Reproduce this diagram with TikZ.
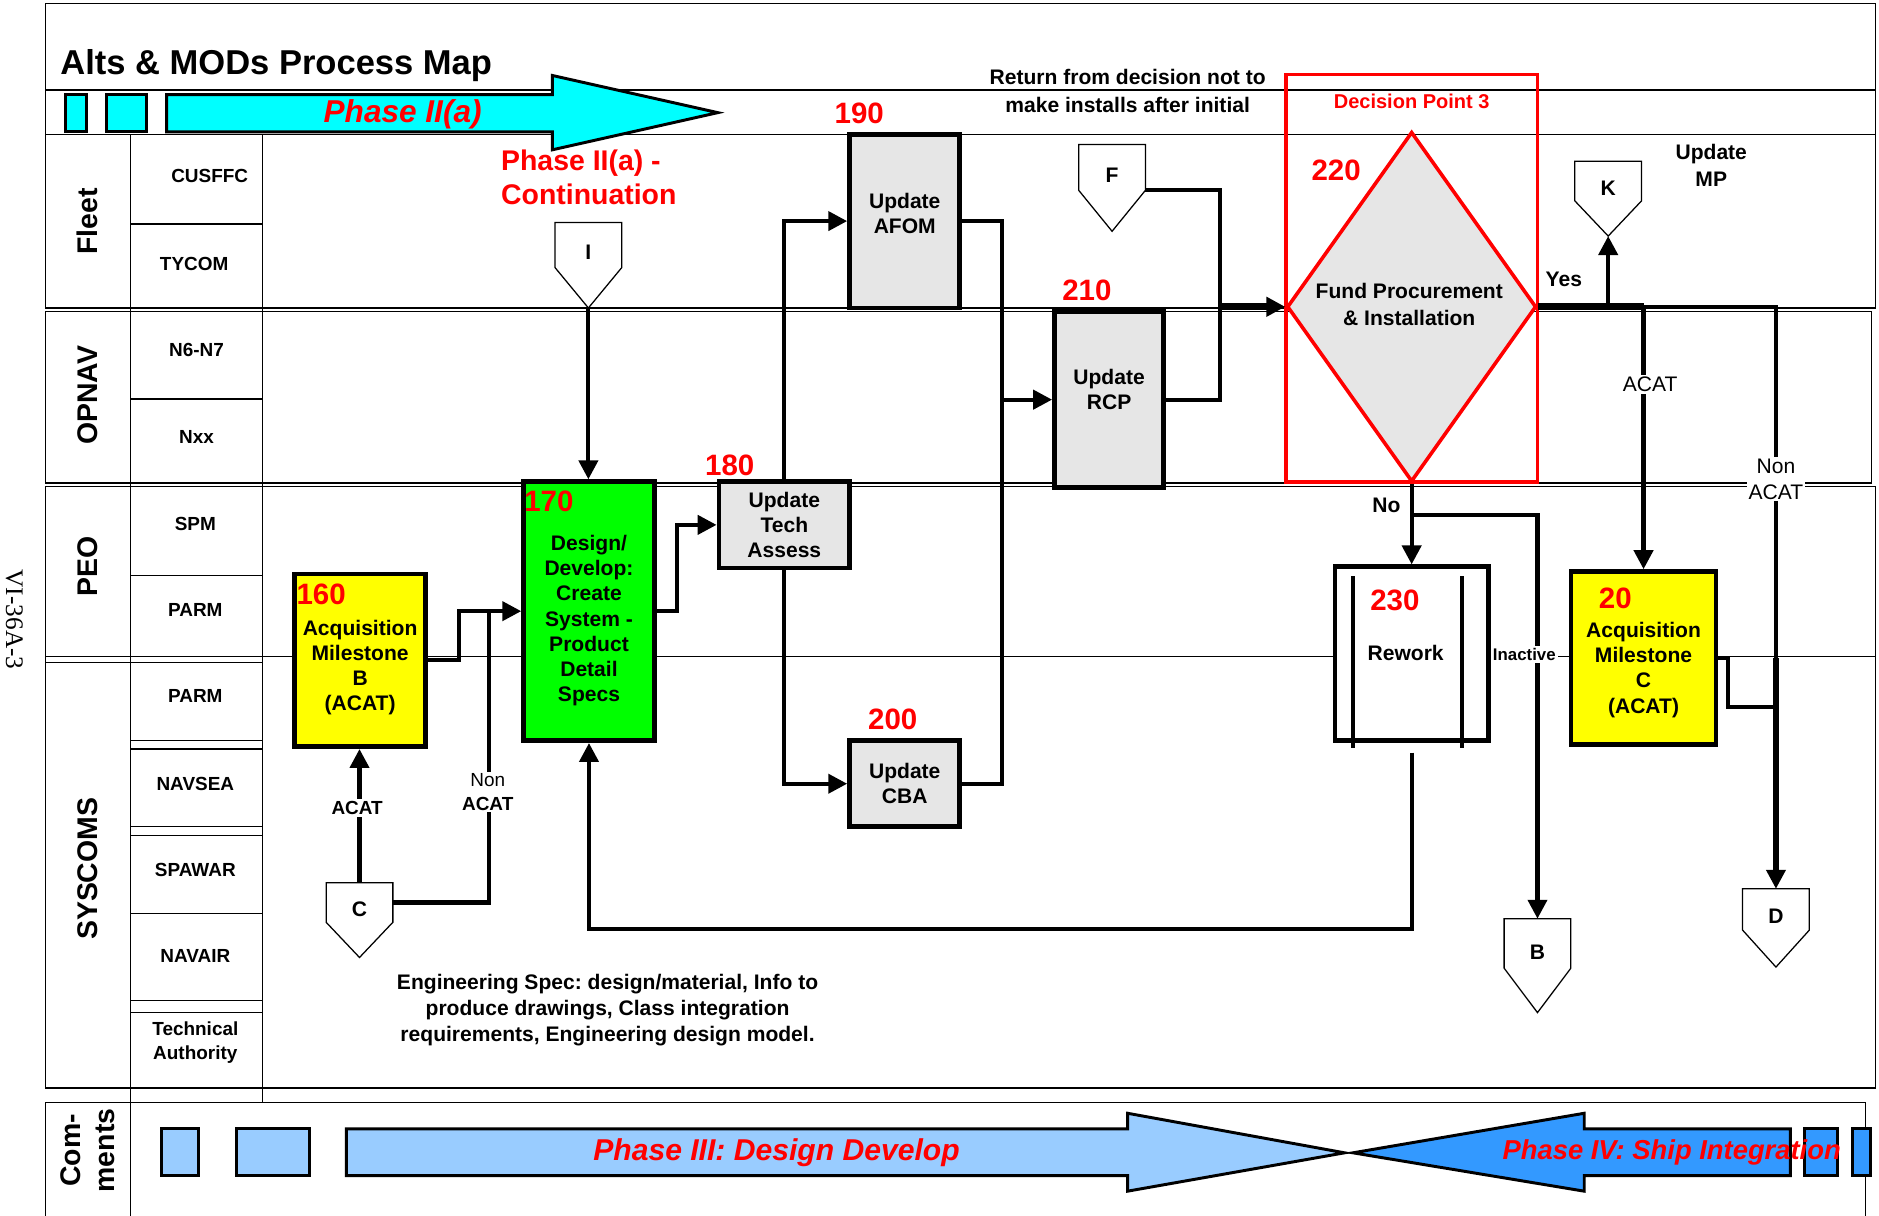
\documentclass[tikz,border=0pt]{standalone}
\usepackage{fontspec}
\setmainfont{Liberation Sans}
\newfontfamily\pagenofont{Liberation Serif}
\usetikzlibrary{arrows.meta,calc,positioning,shapes.geometric}
\definecolor{phcyan}{HTML}{00FFFF}
\definecolor{phlight}{HTML}{99CCFF}
\definecolor{phdark}{HTML}{3399FF}
\definecolor{boxgrey}{HTML}{E6E6E6}
\definecolor{boxyellow}{HTML}{FFFF00}
\definecolor{boxgreen}{HTML}{00FF00}
\newcommand{\sizefont}[2]{\fontsize{#1}{#2}\selectfont}
\tikzset{
  sz/.style 2 args={minimum width=#1*0.02cm,minimum height=#2*0.02cm},
  lane/.style={line width=0.6pt},
  lanehead/.style={rotate=90,font=\bfseries\sizefont{13.5}{16},align=center},
  lanecell/.style={font=\bfseries\sizefont{9}{11},align=center},
  procbox/.style={draw,line width=2.3pt,fill=boxgrey,inner sep=0pt,align=center,font=\bfseries\sizefont{10}{12}},
  boxtext/.style={align=center,inner sep=0pt,font=\bfseries\sizefont{10}{12}},
  stepno/.style={text=red,font=\bfseries\sizefont{14}{16}},
  offpg/.style={inner sep=0pt,minimum width=1.1cm,font=\bfseries\sizefont{10}{12}},
  conn/.style={line width=2pt},
  cnlabel/.style={fill=white,inner sep=1pt,align=center,font=\sizefont{10}{12}},
  remark/.style={align=center,font=\bfseries\sizefont{10}{12.5}},
  phbar/.style={draw,line width=1.4pt},
  phtext/.style={text=red,font=\bfseries\itshape\sizefont{15}{18}}
}

\begin{document}
\frenchspacing
\begin{tikzpicture}[x=0.02cm,y=-0.02cm,>={Triangle[length=9pt,width=9pt]}]
\useasboundingbox (0,0) rectangle (1568,1014);
% --- frame and swim lanes
\draw[lane] (38,3) rectangle (1565,257) (38,75) -- (1565,75) (38,112) -- (1565,112);
\draw[lane] (38,260) rectangle (1562,403);
\draw[lane] (38,406) rectangle (1565,908) (38,548) -- (1565,548) (38,553) -- (219,553);
\draw[lane] (38,920) rectangle (1557,1030) (109,920) -- (109,1030);
\draw[lane] (109,112) -- (109,920) (219,112) -- (219,920);
\foreach \yy in {187,333,480,618,625,690,697,762,835,845} \draw[lane] (109,\yy) -- (219,\yy);
\foreach \nm/\yy in {Fleet/185,OPNAV/330,PEO/473,SYSCOMS/725} \node[lanehead] (ln\nm) at (73,\yy) {\nm};
\node[lanehead] (lnCom) at (73,960) {Com-\\ments};
\foreach \lbl/\xx/\yy [count=\i] in {CUSFFC/175/147,TYCOM/162/220,N6-N7/164/292,Nxx/164/365,SPM/163/437,PARM/163/509,PARM/163/581,NAVSEA/163/654,SPAWAR/163/726,NAVAIR/163/798}
  \node[lanecell] (cell\i) at (\xx,\yy) {\lbl};
\node[lanecell] (cell11) at (163,870) {Technical\\Authority};
\node[anchor=base west,inner sep=0pt,font=\bfseries\sizefont{16.4}{19}] (title) at (50,62) {Alts \& MODs Process Map};
\node[rotate=-90,font=\pagenofont\sizefont{12}{14}] (pageno) at (12,517) {VI-36A-3};

% --- phase band on top
\foreach \xa/\xb in {55/72,89/122} \draw[phbar,fill=phcyan] (\xa,79) rectangle (\xb,110);
\draw[phbar,fill=phcyan] (139,79) -- (461,79) -- (461,63) -- (599,94) -- (461,125) -- (461,110) -- (139,110) -- cycle;
\node[phtext] (ph2a) at (336,95) {Phase II(a)};
\node[anchor=west,align=left,text=red,font=\bfseries\sizefont{13.5}{16}] (cont) at (412,148) {Phase II(a) -\\Continuation};
\node[remark,font=\bfseries\sizefont{10}{13}] (retnote) at (941,76) {Return from decision not to\\make installs after initial};
\node[remark] (mpnote) at (1428,138) {Update\\MP};
\node[remark] (engnote) at (507,843) {Engineering Spec: design/material, Info to\\produce drawings, Class integration\\requirements, Engineering design model.};

% --- process steps
\node[procbox,fill=boxyellow,sz={109}{144}] (p160) at (300.5,551) {};
\node[boxtext] (t160) at (300.5,557) {Acquisition\\Milestone\\B\\(ACAT)};
\node[procbox,fill=boxgreen,sz={109}{216}] (p170) at (491.5,510) {};
\node[boxtext] (t170) at (491.5,518) {Design/\\Develop:\\Create\\System -\\Product\\Detail\\Specs};
\node[procbox,sz={109}{72}] (p180) at (654.5,438) {Update\\Tech\\Assess};
\node[procbox,sz={92}{145}] (p190) at (755,184.5) {};
\node[boxtext] (t190) at (755,178) {Update\\AFOM};
\node[procbox,sz={92}{72}] (p200) at (755,654) {Update\\CBA};
\node[procbox,sz={91}{147}] (p210) at (925.5,333.5) {};
\node[boxtext] (t210) at (925.5,325) {Update\\RCP};
\node[procbox,fill=white,sz={128}{145}] (p230) at (1178,545.5) {};
\node[boxtext] (t230) at (1173,545) {Rework};
\foreach \dx in {17,108} \draw[line width=1.8pt] ($(p230.north west)+(\dx,10)$) -- ++(0,143);
\node[procbox,fill=boxyellow,sz={121}{144}] (p20) at (1371.5,549) {};
\node[boxtext] (t20) at (1371.5,559) {Acquisition\\Milestone\\C\\(ACAT)};
\node[draw=red,line width=1.7pt,fill=boxgrey,shape=diamond,inner sep=0pt,sz={208}{292}] (d220) at (1178,256) {};
\node[font=\bfseries\sizefont{10}{12.5},align=center] (t220) at (1176,254) {Fund Procurement\\\& Installation};
\node[draw=red,line width=1.7pt,sz={210}{340}] (dp3) at (1178,232) {};
\node[text=red,font=\bfseries\sizefont{9.5}{11}] (dp3lbl) at (1178,85) {Decision Point 3};
\foreach \nm/\xx/\yy in {160/268/496,170/458/418,180/609/388,190/717/95,200/745/600,210/907/242,220/1115/142,230/1164/501,20/1348/499}
  \node[stepno] (no\nm) at (\xx,\yy) {\nm};

% --- off-page connectors
\foreach \nm/\x/\y/\h in {I/491/186/71,F/928/121/72,K/1342/135/62,C/300/737/62,B/1283/767/78,D/1482/742/65} {
  \node[offpg,minimum height=\h*0.0104cm] (off\nm) at (\x,\y+\h*0.26) {};
  \coordinate (tip\nm) at (\x,\y+\h);
  \draw[line width=0.6pt,fill=white] (off\nm.north west) -- (off\nm.north east) -- (off\nm.south east) -- (tip\nm) -- (off\nm.south west) -- cycle;
  \node[offpg] (lbl\nm) at (\x,\y+\h*0.35) {\nm};
}

% --- flow
\draw[conn,->] (tipI) -- (tipI |- p170.north);
\coordinate (j160) at (383,510);
\coordinate (j160c) at (408,510);
\draw[conn,->] (p160.east) -| (j160) -- (p170.west);
\draw[conn] (offC.east) -| (j160c);
\draw[conn,->] (offC.north) -- (offC.north |- p160.south);
\coordinate (j170) at (565,438);
\draw[conn,->] (p170.east) -| (j170) -- (p180.west);
\draw[conn,->] (p180.north) |- (p190.west);
\draw[conn,->] (p180.south) |- (p200.west);
\coordinate (j190) at (836,333.5);
\draw[conn] (p190.east) -| (j190) |- (p200.east);
\draw[conn,->] (j190) -- (p210.west);
\coordinate (j210) at (1018,256);
\draw[conn] (p210.east) -| (j210);
\draw[conn] (offF.south east) -| (j210);
\draw[conn,line width=3.5pt,->] (j210) -- (d220.west);
\coordinate (jyes) at (1372,256);
\draw[conn,line width=3.5pt] (d220.east) -- (jyes);
\draw[conn,->] (jyes) -| (offD.north);
\draw[conn,->] (p20.north |- jyes) -- (p20.north);
\draw[conn,->] (tipK |- jyes) -- (tipK);
\draw[conn,->] (d220.south) -- (p230.north);
\draw[conn,->] ($(d220.south)+(0,26)$) -| (offB.north);
\draw[conn,->] ($(p230.south)+(0,8)$) -- ++(0,147) -| (p170.south);
\coordinate (j20) at (1482,590);
\draw[conn] (p20.east) -- ++(8,0) |- (j20);
\draw[conn,line width=3pt] (j20 |- p20.east) -- ($(offD.north)+(0,-12)$);
\node[cnlabel,font=\bfseries\sizefont{9}{11}] (lacat1) at (298,674) {ACAT};
\node[cnlabel,font=\sizefont{9}{11}] (lnon1) at (407,661) {Non\\\textbf{ACAT}};
\node[cnlabel] (lacat2) at (1377,321) {ACAT};
\node[cnlabel] (lnon2) at (1482,400) {Non\\ACAT};
\node[font=\bfseries\sizefont{10}{12}] (lyes) at (1305,233) {Yes};
\node[font=\bfseries\sizefont{10}{12}] (lno) at (1157,422) {No};
\node[cnlabel,font=\bfseries\sizefont{8}{10}] (linact) at (1272,546) {Inactive};

% --- phase band at the bottom
\foreach \xa/\xb in {135/166,197/258} \draw[phbar,fill=phlight] (\xa,942) rectangle (\xb,981);
\draw[phbar,fill=phlight] (289,942) -- (941,942) -- (941,929) -- (1122,962) -- (941,994) -- (941,981) -- (289,981) -- cycle;
\draw[phbar,fill=phdark] (1129,962) -- (1322,929) -- (1322,942) -- (1494,942) -- (1494,981) -- (1322,981) -- (1322,994) -- cycle;
\foreach \xa/\xb in {1506/1533,1546/1561} \draw[phbar,fill=phdark] (\xa,942) rectangle (\xb,981);
\node[phtext,font=\bfseries\itshape\sizefont{14.3}{17}] (ph3) at (648,962) {Phase III: Design Develop};
\node[phtext,font=\bfseries\itshape\sizefont{13}{16}] (ph4) at (1395,962) {Phase IV: Ship Integration};
\end{tikzpicture}
\end{document}
